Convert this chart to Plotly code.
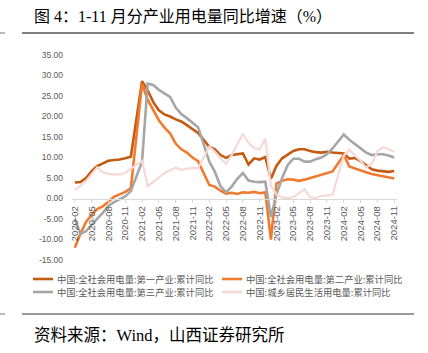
import plotly.graph_objects as go
import pandas as pd

# ---------------- data ----------------
months = [p.strftime("%Y-%m") for p in pd.period_range("2020-02", "2024-11", freq="M")]
tick_labels = months[::3]

series_names = [
    "中国:全社会用电量:第一产业:累计同比",
    "中国:全社会用电量:第二产业:累计同比",
    "中国:全社会用电量:第三产业:累计同比",
    "中国:城乡居民生活用电量:累计同比",
]

primary = [3.9, 4.0, 5.0, 6.7, 7.9, 8.6, 9.2, 9.4, 9.5, 9.8, 10.2, None,
           28.6, 26.4, 23.5, 21.5, 20.5, 20.0, 19.3, 18.8, 17.9, 17.0, 16.0, None,
           12.6, 12.0, 10.6, 9.9, 10.6, 10.8, 11.0, 8.3, 9.8, 9.5, 10.1, 4.8,
           8.0, 9.8, 10.8, 11.6, 12.0, 12.0, 11.6, 11.3, 11.2, 11.4, 11.2, None,
           11.0, 9.7, 9.9, 9.1, 8.0, 7.1, 6.8, 6.6, 6.5, 6.7]

secondary = [-12.0, -8.6, -5.7, -4.0, -2.6, -1.9, -0.8, 0.4, 1.0, 1.6, 2.5, None,
             28.0, 24.1, 21.5, 19.1, 17.3, 15.9, 13.4, 12.0, 11.2, 10.0, 9.1, None,
             3.3, 2.9, 1.9, 1.2, 1.4, 1.1, 1.5, 1.4, 1.6, 1.3, 1.5, -10.0,
             3.7, 4.3, 4.7, 4.6, 4.3, 4.6, 5.0, 5.4, 5.8, 6.2, 6.6, None,
             10.6, 7.8, 7.3, 6.8, 6.4, 6.0, 5.7, 5.4, 5.1, 4.9]

tertiary = [-5.0, -8.6, -8.0, -6.4, -4.9, -3.5, -1.8, -0.9, -0.2, 0.5, 1.8, None,
            9.0, 28.0, 27.7, 26.5, 25.6, 24.8, 22.2, 20.6, 19.6, 18.6, 17.4, None,
            9.0, 6.5, 3.0, 1.5, 2.9, 4.8, 6.2, 4.4, 4.1, 4.0, 4.1, -4.5,
            1.0, 5.0, 8.2, 9.7, 9.7, 9.0, 9.0, 9.6, 10.0, 10.8, 12.2, None,
            15.6, 14.3, 13.2, 12.3, 11.2, 10.6, 10.8, 10.8, 10.5, 10.0]

residential = [2.1, 3.0, 4.3, 6.0, 7.6, 6.4, 6.0, 5.9, 5.8, 6.3, 7.2, None,
               9.2, 3.0, 4.0, 5.2, 6.2, 6.9, 7.5, 7.0, 7.3, 7.4, 7.4, None,
               12.6, 11.4, 9.8, 8.5, 10.6, 13.1, 15.8, 13.5, 12.3, 12.0, 14.6, 3.0,
               1.0, 0.2, 0.1, 0.3, 1.4, 2.3, 0.3, 0.1, 0.6, 0.8, 0.9, None,
               10.4, 11.9, 10.5, 9.2, 7.5, 8.5, 11.5, 12.5, 12.0, 11.4]

y_ticks = [-15, -10, -5, 0, 5, 10, 15, 20, 25, 30, 35]
y_tick_text = [f"{v:.2f}" for v in y_ticks]

title_text = "图 4：1-11 月分产业用电量同比增速（%）"
source_text = "资料来源：Wind，山西证券研究所"

colors = ["#C55A11", "#F07A30", "#A6A6A6", "#F6D9D7"]
widths = [2.6, 2.6, 2.6, 2.2]

# ---------------- figure ----------------
W, H = 428, 353
L, R, T, B = 72, 31, 55, 93
PW, PH = W - L - R, H - T - B


def px(x):
    return (x - L) / PW


def py(y):
    return (H - B - y) / PH


fig = go.Figure()
for name, vals, c, w in zip(series_names, [primary, secondary, tertiary, residential], colors, widths):
    fig.add_trace(go.Scatter(x=months, y=vals, name=name, mode="lines",
                             line=dict(color=c, width=w), connectgaps=True,
                             showlegend=False))

font_sans = "Arial, Liberation Sans, Noto Sans CJK SC, sans-serif"
font_title = "Times New Roman, Liberation Serif, Noto Sans CJK SC, serif"

fig.update_layout(
    width=W, height=H,
    margin=dict(l=L, r=R, t=T, b=B, pad=0),
    paper_bgcolor="white", plot_bgcolor="white",
    xaxis=dict(type="category", range=[-0.5, len(months) - 0.5],
               anchor="free", position=15 / 50,
               showline=True, linecolor="#D9D9D9", linewidth=1,
               ticks="outside", ticklen=3, tickcolor="#D9D9D9",
               tickmode="array", tickvals=tick_labels, ticktext=tick_labels,
               tickangle=-90, tickfont=dict(family=font_sans, size=9.5, color="#595959"),
               showgrid=False, zeroline=False),
    yaxis=dict(range=[-15, 35], tickmode="array", tickvals=y_ticks, ticktext=y_tick_text,
               showgrid=False, zeroline=False, showline=False,
               tickfont=dict(family=font_sans, size=8.5, color="#595959"),
               ticklabelstandoff=8),
    showlegend=False,
)

shapes = []
annotations = []
# title & separators
annotations.append(dict(text=title_text, xref="paper", yref="paper", x=px(32), y=py(16.5),
                        xanchor="left", yanchor="middle", showarrow=False,
                        font=dict(family=font_title, size=16, color="#000000")))
annotations.append(dict(text=source_text, xref="paper", yref="paper", x=px(32), y=py(335),
                        xanchor="left", yanchor="middle", showarrow=False,
                        font=dict(family=font_title, size=16.5, color="#000000")))
for yy, col, wd in [(33, "#555555", 1.5), (314, "#333333", 1)]:
    shapes.append(dict(type="line", xref="paper", yref="paper", x0=px(22), x1=px(414),
                       y0=py(yy), y1=py(yy), line=dict(color=col, width=wd)))
    shapes.append(dict(type="line", xref="paper", yref="paper", x0=px(0), x1=px(5),
                       y0=py(yy), y1=py(yy), line=dict(color="#777777", width=1)))

# legend (manual, two columns)
col_x = [33, 222]
row_y = [279, 292]
for i, (name, c) in enumerate(zip(series_names, colors)):
    cx, ry = col_x[i % 2], row_y[i // 2]
    shapes.append(dict(type="line", xref="paper", yref="paper", x0=px(cx), x1=px(cx + 20),
                       y0=py(ry), y1=py(ry), line=dict(color=c, width=2.6)))
    annotations.append(dict(text=name, xref="paper", yref="paper", x=px(cx + 23), y=py(ry),
                            xanchor="left", yanchor="middle", showarrow=False,
                            height=12, borderpad=0,
                            font=dict(family="Noto Sans CJK SC, sans-serif", size=9.3, color="#595959")))

fig.update_layout(shapes=shapes, annotations=annotations)
fig.write_html("out.html")
